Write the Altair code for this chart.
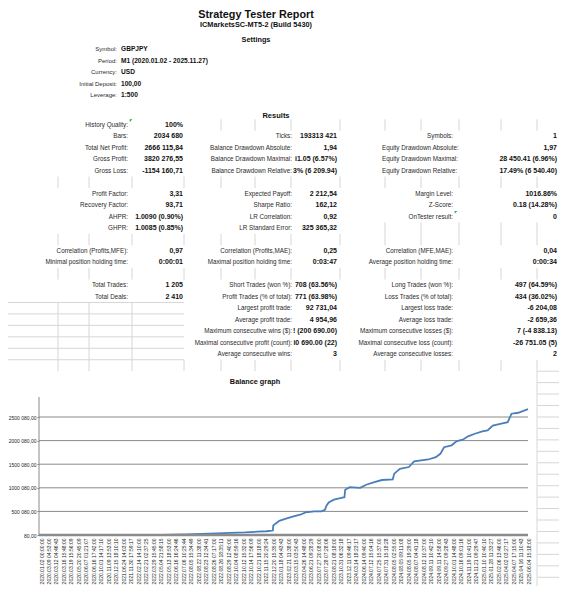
import altair as alt
import pandas as pd

# ---------------- report text ----------------
TITLE = "Strategy Tester Report"
SUBTITLE = "ICMarketsSC-MT5-2 (Build 5430)"
SETTINGS_HEADER = "Settings"
RESULTS_HEADER = "Results"
GRAPH_TITLE = "Balance graph"

SETTINGS_LABELS = ["Symbol:", "Period:", "Currency:", "Initial Deposit:", "Leverage:"]
SETTINGS_VALUES = ["GBPJPY", "M1 (2020.01.02 - 2025.11.27)", "USD", "100,00", "1:500"]

# results: three column groups, row index inside the results block
G1_ROWS = [0, 1, 2, 3, 4, 6, 7, 8, 9, 11, 12, 14, 15]
G1_LABELS = ["History Quality:", "Bars:", "Total Net Profit:", "Gross Profit:", "Gross Loss:",
             "Profit Factor:", "Recovery Factor:", "AHPR:", "GHPR:",
             "Correlation (Profits,MFE):", "Minimal position holding time:",
             "Total Trades:", "Total Deals:"]
G1_VALUES = ["100%", "2034 680", "2666 115,84", "3820 276,55", "-1154 160,71",
             "3,31", "93,71", "1.0090 (0.90%)", "1.0085 (0.85%)",
             "0,97", "0:00:01", "1 205", "2 410"]

G2_ROWS = [1, 2, 3, 4, 6, 7, 8, 9, 11, 12, 14, 15, 16, 17, 18, 19, 20]
G2_LABELS = ["Ticks:", "Balance Drawdown Absolute:", "Balance Drawdown Maximal:",
             "Balance Drawdown Relative:", "Expected Payoff:", "Sharpe Ratio:",
             "LR Correlation:", "LR Standard Error:", "Correlation (Profits,MAE):",
             "Maximal position holding time:", "Short Trades (won %):",
             "Profit Trades (% of total):", "Largest profit trade:", "Average profit trade:",
             "Maximum consecutive wins ($):", "Maximal consecutive profit (count):",
             "Average consecutive wins:"]
G2_VALUES = ["193313 421", "1,94", "i1.05 (6.57%)", "3% (6 209.94)", "2 212,54", "162,12",
             "0,92", "325 365,32", "0,25", "0:03:47", "708 (63.56%)", "771 (63.98%)",
             "92 731,04", "4 954,96", "! (200 690.00)", "i0 690.00 (22)", "3"]

G3_ROWS = [1, 2, 3, 4, 6, 7, 8, 11, 12, 14, 15, 16, 17, 18, 19, 20]
G3_LABELS = ["Symbols:", "Equity Drawdown Absolute:", "Equity Drawdown Maximal:",
             "Equity Drawdown Relative:", "Margin Level:", "Z-Score:", "OnTester result:",
             "Correlation (MFE,MAE):", "Average position holding time:",
             "Long Trades (won %):", "Loss Trades (% of total):", "Largest loss trade:",
             "Average loss trade:", "Maximum consecutive losses ($):",
             "Maximal consecutive loss (count):", "Average consecutive losses:"]
G3_VALUES = ["1", "1,97", "28 450.41 (6.96%)", "17.49% (6 540.40)", "1016.86%",
             "0.18 (14.28%)", "0", "0,04", "0:00:34", "497 (64.59%)", "434 (36.02%)",
             "-6 204,08", "-2 659,36", "7 (-4 838.13)", "-26 751.05 (5)", "2"]
LEFT_ALIGNED_LABELS = ["Equity Drawdown Absolute:", "Equity Drawdown Maximal:",
                       "Equity Drawdown Relative:"]
FLAGGED_LABELS = ["History Quality:", "OnTester result:"]

# ---------------- balance graph ----------------
DATE_LABELS = [
    "2020.01.02 00:00:00", "2020.03.09 04:53:00", "2020.03.12 04:46:43", "2020.03.16 15:48:00",
    "2020.03.19 15:56:09", "2020.05.20 20:45:09", "2020.06.07 01:21:07", "2020.06.16 17:42:00",
    "2020.10.01 14:17:10", "2020.11.09 13:53:00", "2020.12.15 18:10:10", "2021.06.24 14:03:00",
    "2021.11.30 17:59:17", "2022.02.14 14:10:00", "2022.02.21 02:37:25", "2022.03.29 15:45:00",
    "2022.05.04 21:58:15", "2022.05.13 18:53:00", "2022.06.16 16:24:46", "2022.07.06 10:25:44",
    "2022.08.05 15:34:49", "2022.08.22 11:38:00", "2022.08.23 12:34:41", "2022.08.26 07:17:00",
    "2022.08.26 18:35:11", "2022.08.29 12:40:00", "2022.10.04 08:59:16", "2022.10.12 15:32:00",
    "2022.10.14 17:56:09", "2022.10.21 18:18:00", "2022.11.15 20:29:24", "2022.12.20 15:35:00",
    "2023.01.18 04:43:43", "2023.02.21 11:38:00", "2023.03.15 03:50:43", "2023.04.26 14:48:00",
    "2023.06.21 09:28:29", "2023.07.27 20:08:00", "2023.07.28 07:28:06", "2023.08.21 08:18:00",
    "2023.10.31 06:32:18", "2023.12.11 09:46:17", "2024.03.14 18:23:17", "2024.06.14 09:40:00",
    "2024.07.12 15:04:16", "2024.07.25 15:37:00", "2024.07.31 15:18:28", "2024.08.05 02:55:00",
    "2024.08.05 09:11:08", "2024.08.05 19:29:00", "2024.08.07 04:41:18", "2024.08.12 10:37:00",
    "2024.09.11 10:42:10", "2024.09.11 14:58:00", "2024.09.27 09:28:43", "2024.10.01 14:48:00",
    "2024.10.16 09:01:16", "2024.11.19 10:41:00", "2024.11.21 09:29:47", "2025.01.10 10:40:10",
    "2025.01.28 11:33:27", "2025.02.06 13:46:00", "2025.04.02 03:27:17", "2025.04.07 17:15:00",
    "2025.04.16 11:10:43", "2025.06.04 15:18:00",
]
# position along the deal axis (in label steps) and balance
BAL_POS = [0, 4.85, 9.7, 13.6, 16.3, 17.5, 19.4, 21.3, 23.5, 25.2, 27.2, 28.9, 30.1, 30.95, 31.0,
           31.3, 31.8, 32.7, 33.7, 34.6, 35.3, 36.5, 37.4, 37.9, 38.1, 38.4, 39.1, 40.1, 40.5, 40.6,
           41.2, 42.6, 43.4, 44.5, 45.5, 46.95, 47.15, 47.9, 49.1, 49.8, 51.7, 52.7, 53.3, 53.8, 54.8,
           55.5, 56.3, 57.0, 57.9, 58.9, 59.6, 60.3, 61.3, 62.3, 62.8, 63.7, 65.0]
BALANCE = [100, 150, 400, 1500, 4000, 8000, 15000, 22000, 35000, 45000, 55000, 70000, 80000,
           95000, 200000, 240000, 300000, 345000, 395000, 430000, 480000, 500000, 500000, 535000,
           620000, 690000, 750000, 785000, 800000, 960000, 1015000, 1000000, 1065000, 1120000,
           1165000, 1180000, 1300000, 1400000, 1440000, 1560000, 1600000, 1650000, 1720000,
           1860000, 1900000, 1990000, 2020000, 2090000, 2145000, 2195000, 2215000, 2320000,
           2355000, 2390000, 2570000, 2590000, 2666216]
Y_TICKS = [80, 500080, 1000080, 1500080, 2000080, 2500080]
Y_TICK_LABELS = ["80,00", "500 080,00", "1000 080,00", "1500 080,00", "2000 080,00", "2500 080,00"]
AXIS_TOP = 2924000

# ---------------- layout ----------------
W, H = 551, 578
FONT = "Liberation Sans"
ROW0_PX, ROW_PX = 117.0, 11.45          # chart y of results row 0, row pitch
G_LABEL_X = [128, 292, 453]             # right edge of label columns (page px)
G_VALUE_X = [183, 337, 557]             # right edge of value columns
G3_LEFT_X = 382
SET_LABEL_X, SET_VALUE_X = 117, 121
SET_ROWS = [-6.6, -5.6, -4.6, -3.6, -2.6]
# faint spreadsheet cell borders (page px) and the empty cells they show in
COL_EDGES = [58, 89, 132, 184, 221, 255, 291, 340, 385, 421, 459, 501, 537]
BLANK_ROWS = [5, 10, 13, 21]
GRID_COLOR = "#d6d6d6"

xs_text = alt.Scale(domain=[8, 8 + W], nice=False, zero=False)
ys_text = alt.Scale(domain=[-ROW0_PX / ROW_PX, (H - ROW0_PX) / ROW_PX], nice=False,
                    zero=False, reverse=True)

# graph geometry: label 0 at page x 41, label 65 at page x 528, balance 80 at page y 535
N_STEPS = len(DATE_LABELS) - 1
px_per_step = (528 - 41) / N_STEPS
xs_g = alt.Scale(domain=[(8 - 41) / px_per_step, N_STEPS + (8 + W - 528) / px_per_step],
                 nice=False, zero=False)
px_per_unit = 23.6 / 500000
ys_g = alt.Scale(domain=[80 - (8 + H - 535) / px_per_unit, 80 + (535 - 8) / px_per_unit],
                 nice=False, zero=False)
YAXIS_POS = (39 - 41) / px_per_step

# ---------------- tables ----------------
headings = pd.DataFrame({
    "text": [TITLE, SUBTITLE, SETTINGS_HEADER, RESULTS_HEADER, GRAPH_TITLE],
    "x": [256, 256, 256, 276, 255],
    "row": [-9.6, -8.72, -7.45, -0.8, 22.45],
    "size": [10.8, 7.3, 7.3, 7.5, 7.3],
})

lab_r, lab_l, val_r, flags = [], [], [], []
for r, t in zip(SET_ROWS, SETTINGS_LABELS):
    lab_r.append({"text": t, "x": SET_LABEL_X, "row": r, "size": 6.0})
val_l = pd.DataFrame({"text": SETTINGS_VALUES, "x": SET_VALUE_X, "row": SET_ROWS, "size": 6.6})

for gi, (rows, labels, values) in enumerate([(G1_ROWS, G1_LABELS, G1_VALUES),
                                             (G2_ROWS, G2_LABELS, G2_VALUES),
                                             (G3_ROWS, G3_LABELS, G3_VALUES)]):
    for r, lab, v in zip(rows, labels, values):
        if lab in LEFT_ALIGNED_LABELS:
            lab_l.append({"text": lab, "x": G3_LEFT_X, "row": r, "size": 6.3})
        else:
            lab_r.append({"text": lab, "x": G_LABEL_X[gi], "row": r, "size": 6.3})
        if lab in FLAGGED_LABELS:
            flags.append({"x": G_LABEL_X[gi] + 3, "row": r - 0.38})
        val_r.append({"text": v, "x": G_VALUE_X[gi], "row": r, "size": 7.0})

lab_r, lab_l, val_r, flags = map(pd.DataFrame, [lab_r, lab_l, val_r, flags])

# spreadsheet cell borders visible in empty cells
vcells = []
for r in BLANK_ROWS:
    for e in COL_EDGES:
        vcells.append({"x": e, "row": r - 0.5, "row2": r + 0.5})
for e in COL_EDGES[4:]:
    vcells.append({"x": e, "row": -0.5, "row2": 0.5})
for e in COL_EDGES[8:]:
    vcells.append({"x": e, "row": 8.5, "row2": 9.5})
for e in COL_EDGES[:3]:
    vcells.append({"x": e, "row": 15.5, "row2": 20.5})
vcells.append({"x": COL_EDGES[-1], "row": 21.5, "row2": (H - ROW0_PX) / ROW_PX})
vcells = pd.DataFrame(vcells)
hcells = [{"x": 8, "x2": COL_EDGES[3], "row": k + 0.5} for k in range(15, 21)]
hcells += [{"x": COL_EDGES[-1], "x2": 8 + W, "row": k + 0.5}
           for k in range(21, int((H - ROW0_PX) / ROW_PX) + 1)]
hcells = pd.DataFrame(hcells)


def text_layer(df, align, weight, color):
    return alt.Chart(df).mark_text(align=align, baseline="middle", font=FONT,
                                   fontWeight=weight, color=color).encode(
        x=alt.X("x:Q", scale=xs_text, axis=None),
        y=alt.Y("row:Q", scale=ys_text, axis=None),
        text="text:N",
        size=alt.Size("size:Q", scale=None, legend=None),
    )


vgrid_layer = alt.Chart(vcells).mark_rule(color=GRID_COLOR, strokeWidth=1).encode(
    x=alt.X("x:Q", scale=xs_text, axis=None),
    y=alt.Y("row:Q", scale=ys_text, axis=None), y2="row2")
hgrid_layer = alt.Chart(hcells).mark_rule(color=GRID_COLOR, strokeWidth=1).encode(
    x=alt.X("x:Q", scale=xs_text, axis=None), x2="x2",
    y=alt.Y("row:Q", scale=ys_text, axis=None))

flag_layer = alt.Chart(flags).mark_point(shape="M-1,-1L1,-1L-1,1Z", filled=True, size=7,
                                         color="#2f9a3a", opacity=1).encode(
    x=alt.X("x:Q", scale=xs_text, axis=None),
    y=alt.Y("row:Q", scale=ys_text, axis=None),
)

text_part = alt.layer(
    vgrid_layer,
    hgrid_layer,
    text_layer(headings, "center", "bold", "#111"),
    text_layer(lab_r, "right", "normal", "#2a2a2a"),
    text_layer(lab_l, "left", "normal", "#2a2a2a"),
    text_layer(val_r, "right", "bold", "#111"),
    text_layer(val_l, "left", "bold", "#111"),
    flag_layer,
)

# ---------------- graph ----------------
date_expr = "[" + ",".join("'%s'" % d for d in DATE_LABELS) + "][datum.value]"
ylab_expr = ("[" + ",".join("'%s'" % s for s in Y_TICK_LABELS) + "][indexof(["
             + ",".join(str(v) for v in Y_TICKS) + "], datum.value)]")

x_axis = alt.Axis(values=list(range(len(DATE_LABELS))), labelExpr=date_expr, labelAngle=270,
                  labelFontSize=5.0, labelFont=FONT, labelColor="#222", ticks=False,
                  domain=False, grid=False, labelPadding=3, labelOverlap=False,
                  labelFlush=False, offset=-(H - (535 - 8)), title="", orient="bottom")
y_axis = alt.Axis(values=Y_TICKS, labelExpr=ylab_expr, tickSize=2, tickColor="#868686",
                  domain=False, grid=False, labelFontSize=5.0, labelFont=FONT,
                  labelColor="#222", labelPadding=1, offset=-(39 - 8), title="",
                  orient="left")

grid_df = pd.DataFrame({"pos": YAXIS_POS, "pos2": N_STEPS, "bal": Y_TICKS[1:]})
base_df = pd.DataFrame({"pos": [YAXIS_POS], "pos2": [N_STEPS], "bal": [Y_TICKS[0]]})
yline_df = pd.DataFrame({"pos": [YAXIS_POS], "bal": [Y_TICKS[0]], "bal2": [AXIS_TOP]})
line_df = pd.DataFrame({"pos": BAL_POS, "bal": BALANCE})

gridlines = alt.Chart(grid_df).mark_rule(color="#8a8a8a", strokeWidth=1).encode(
    x=alt.X("pos:Q", scale=xs_g, axis=x_axis), x2="pos2",
    y=alt.Y("bal:Q", scale=ys_g, axis=y_axis))
baseline = alt.Chart(base_df).mark_rule(color="#8c8c8c", strokeWidth=2.6).encode(
    x=alt.X("pos:Q", scale=xs_g, axis=x_axis), x2="pos2",
    y=alt.Y("bal:Q", scale=ys_g, axis=y_axis))
yline = alt.Chart(yline_df).mark_rule(color="#8a8a8a", strokeWidth=1).encode(
    x=alt.X("pos:Q", scale=xs_g, axis=x_axis),
    y=alt.Y("bal:Q", scale=ys_g, axis=y_axis), y2="bal2")
balance_line = alt.Chart(line_df).mark_line(color="#4A7EBB", strokeWidth=1.8).encode(
    x=alt.X("pos:Q", scale=xs_g, axis=x_axis),
    y=alt.Y("bal:Q", scale=ys_g, axis=y_axis))

graph_part = alt.layer(gridlines, yline, balance_line, baseline)

chart = alt.layer(text_part, graph_part).resolve_scale(
    x="independent", y="independent"
).properties(
    width=W, height=H, padding=0, autosize=alt.AutoSizeParams(type="none")
).configure_view(strokeWidth=0)

chart.save("out.html", embed_options={"renderer": "svg", "actions": False})
